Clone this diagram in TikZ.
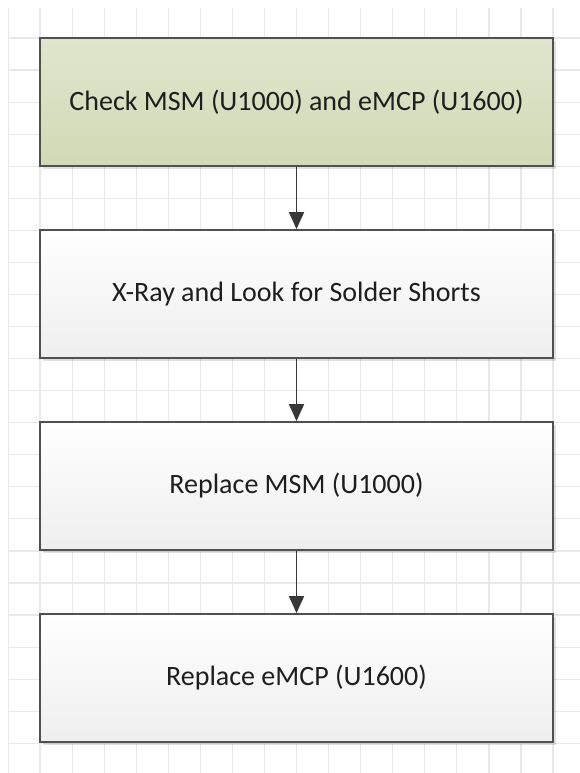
\documentclass[tikz,border=0pt]{standalone}
\usepackage{fontspec}
\setmainfont{Carlito}
\usetikzlibrary{arrows.meta,shadows}

\definecolor{gridgray}{RGB}{232,232,232}
\definecolor{edgegray}{RGB}{80,80,80}
\definecolor{arrowgray}{RGB}{55,55,55}
\definecolor{greentop}{RGB}{224,229,205}
\definecolor{greenbot}{RGB}{209,218,182}
\definecolor{graybot}{RGB}{238,238,238}
\definecolor{textgray}{RGB}{30,30,30}

\begin{document}
\begin{tikzpicture}[x=1pt,y=1pt,node distance=192pt,
    stepbox/.style={rectangle, draw=edgegray, line width=1.8pt,
      minimum width=513pt, minimum height=128pt,
      top color=white, bottom color=graybot,
      text=textgray, font=\fontsize{28}{32}\selectfont,
      drop shadow={shadow xshift=3pt, shadow yshift=-3pt, fill=black, opacity=0.12}},
    startbox/.style={stepbox, top color=greentop, bottom color=greenbot},
    flow/.style={draw=arrowgray, line width=1.6pt, -{Triangle[length=17pt,width=15pt]}}]
    \useasboundingbox (0,0) rectangle (580,773);
    \fill[white] (0,0) rectangle (580,773);

    % background grid
    \begin{scope}
      \clip (8,0) rectangle (580,764);
      \foreach \i in {0,...,18}
        \draw[gridgray, line width=1.2pt] ({8+32.06*\i},0) -- ({8+32.06*\i},773);
      \foreach \j in {-1,...,23}
        \draw[gridgray, line width=1.2pt] (0,{735-32.06*\j}) -- (580,{735-32.06*\j});
    \end{scope}

    \node[startbox] (check) at (296.5,671) {Check MSM (U1000) and eMCP (U1600)};
    \node[stepbox] (xray) [below of=check] {X-Ray and Look for Solder Shorts};
    \node[stepbox] (msm) [below of=xray] {Replace MSM (U1000)};
    \node[stepbox] (emcp) [below of=msm] {Replace eMCP (U1600)};

    \path (check) edge[flow] (xray)
          (xray) edge[flow] (msm)
          (msm) edge[flow] (emcp);
  \end{tikzpicture}
\end{document}
